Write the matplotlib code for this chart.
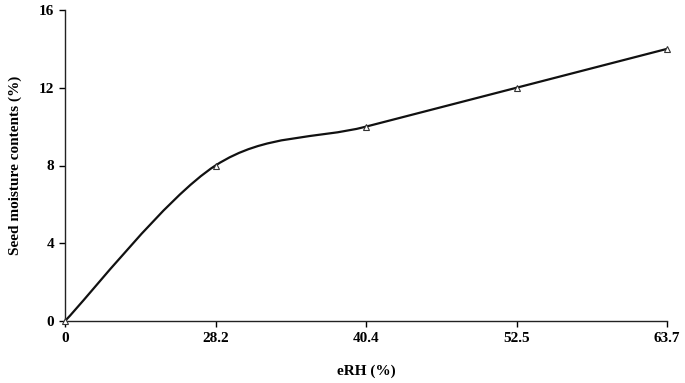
import numpy as np
import matplotlib.pyplot as plt
from matplotlib.path import Path
from matplotlib.patches import PathPatch

erh_labels = ["0", "28.2", "40.4", "52.5", "63.7"]
moisture = [0, 8, 10, 12, 14]
y_ticks = [0, 4, 8, 12, 16]

plt.rcParams['font.family'] = ['Liberation Serif', 'DejaVu Serif']
plt.rcParams['font.weight'] = 'bold'

fig = plt.figure(figsize=(6.85, 3.83), dpi=100)
ax = fig.add_axes([65 / 685, 62 / 383, 602 / 685, 311 / 383])

xs = np.arange(len(moisture), dtype=float)
ys = np.array(moisture, dtype=float)

# excel-style smoothed line (bezier through points)
pts = np.column_stack([xs, ys])
ext = np.vstack([pts[0], pts, pts[-1]])
verts = [tuple(pts[0])]
codes = [Path.MOVETO]
for i in range(len(pts) - 1):
    p0, p1, p2, p3 = ext[i], ext[i + 1], ext[i + 2], ext[i + 3]
    c1 = p1 + (p2 - p0) / 6
    c2 = p2 - (p3 - p1) / 6
    verts += [tuple(c1), tuple(c2), tuple(p2)]
    codes += [Path.CURVE4] * 3
ax.add_patch(PathPatch(Path(verts, codes), fill=False, lw=1.6, color='#111111'))

ax.plot(xs, ys, linestyle='none', marker='^', markersize=5,
        markerfacecolor='white', markeredgecolor='#333333', markeredgewidth=0.8,
        zorder=3, clip_on=False)

ax.set_xlim(0, len(moisture) - 1)
ax.set_ylim(0, 16)
ax.set_xticks(xs)
ax.set_xticklabels(erh_labels)
ax.set_yticks(y_ticks)
ax.spines['top'].set_visible(False)
ax.spines['right'].set_visible(False)
for s in ['left', 'bottom']:
    ax.spines[s].set_linewidth(1.0)
    ax.spines[s].set_color('#222222')
ax.tick_params(direction='out', length=4, width=1.0, labelsize=11, pad=4)
ax.set_xlabel("eRH (%)", fontsize=11, fontweight='bold', labelpad=14)
ax.set_ylabel("Seed moisture contents (%)", fontsize=11, fontweight='bold', labelpad=12)

fig.savefig("out.png", dpi=100)
